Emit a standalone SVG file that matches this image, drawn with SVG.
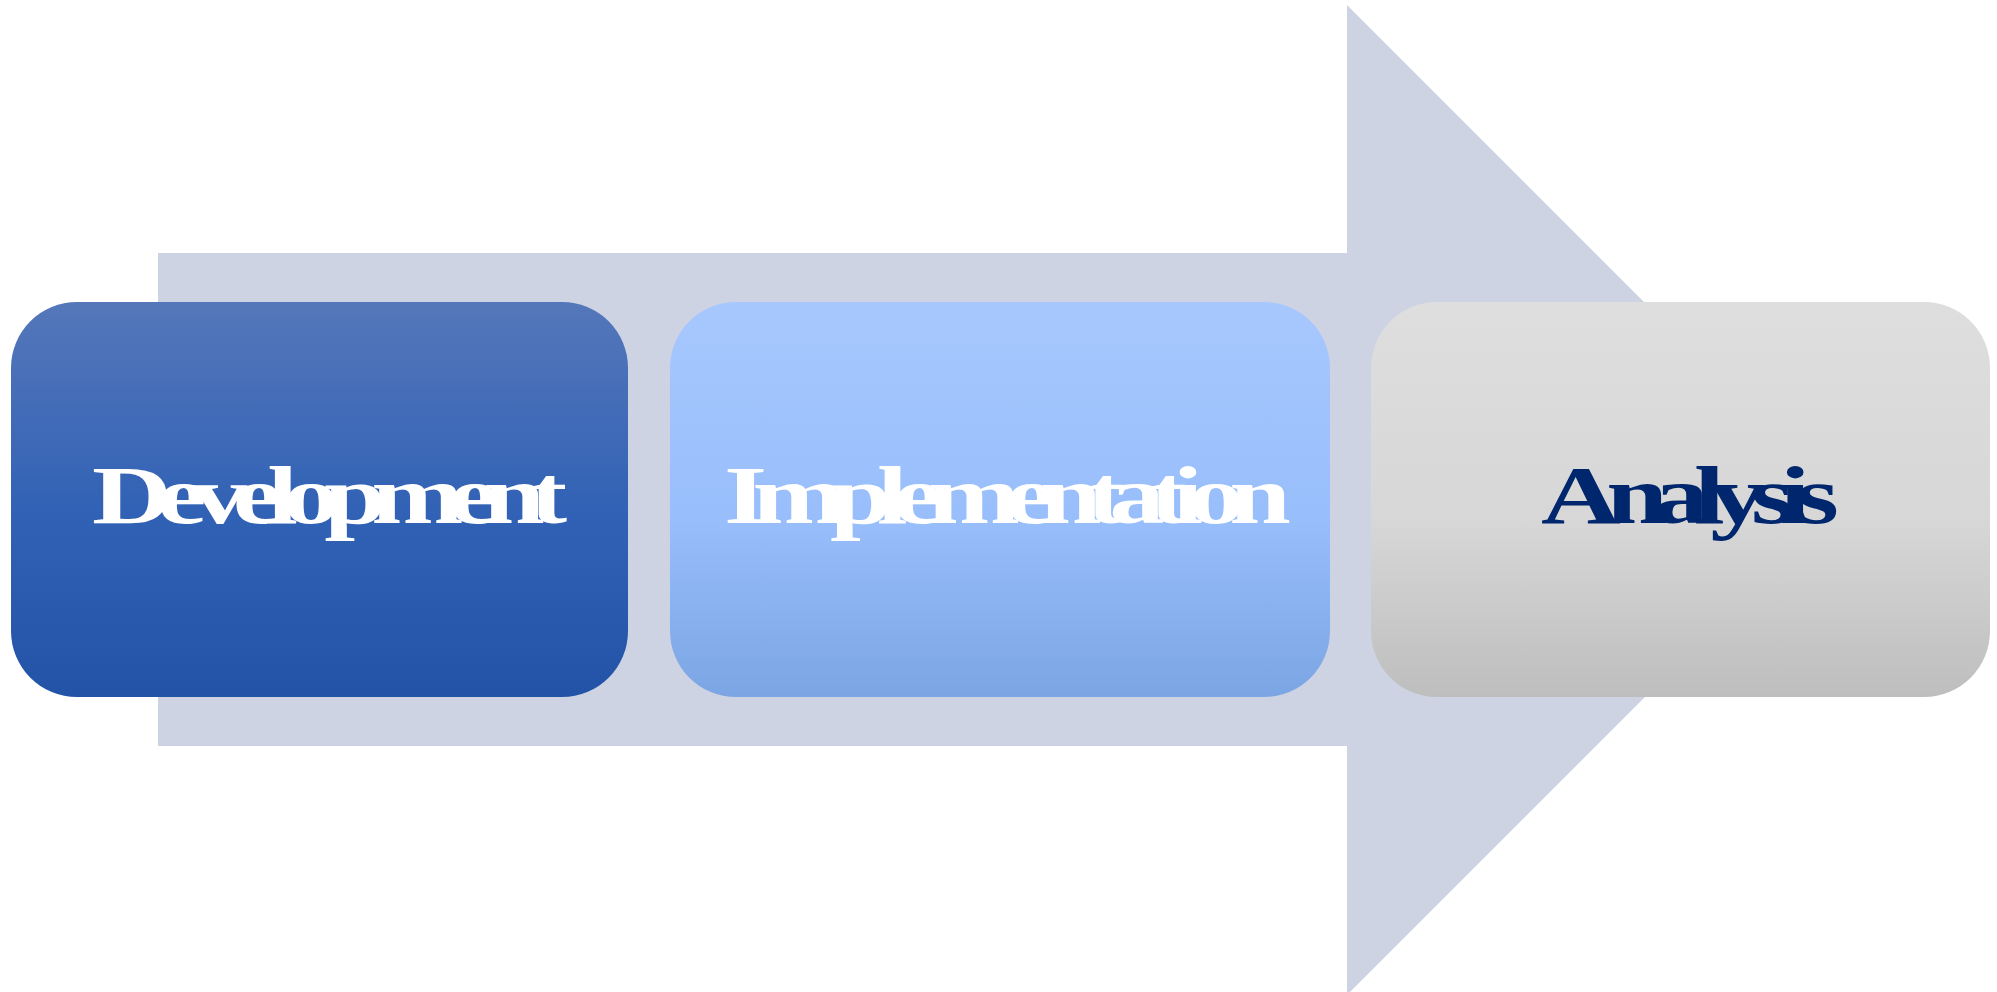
<svg xmlns="http://www.w3.org/2000/svg" width="1997" height="992" viewBox="0 0 1997 992">
  <style>
    .lbl { font-family: "Liberation Serif", "Times New Roman", serif; font-weight: bold; font-size: 82px; letter-spacing: -10.8px; }
    .w { fill: #FFFFFF; }
    .d { fill: #00266E; }
  </style>
  <defs>
    <linearGradient id="g1" x1="0" y1="0" x2="0" y2="1">
      <stop offset="0" stop-color="#5577BA"/>
      <stop offset="0.55" stop-color="#3061B5"/>
      <stop offset="1" stop-color="#2353A7"/>
    </linearGradient>
    <linearGradient id="g2" x1="0" y1="0" x2="0" y2="1">
      <stop offset="0" stop-color="#A7C8FE"/>
      <stop offset="0.55" stop-color="#98BEFB"/>
      <stop offset="1" stop-color="#7BA5E3"/>
    </linearGradient>
    <linearGradient id="g3" x1="0" y1="0" x2="0" y2="1">
      <stop offset="0" stop-color="#DEDEDE"/>
      <stop offset="0.55" stop-color="#D7D7D7"/>
      <stop offset="1" stop-color="#BEBEBE"/>
    </linearGradient>
  </defs>
  <rect width="1997" height="992" fill="#FFFFFF"/>
  <g id="background-arrow">
    <polygon points="158,253 1347,253 1347,5 1842,500 1347,995 1347,746 158,746" fill="#CDD3E3"/>
  </g>
  <g id="node-development">
    <rect x="11" y="302" width="617" height="395" rx="66" ry="66" fill="url(#g1)"/>
    <text class="lbl w" transform="translate(92 523) scale(1.35 1)" x="0" y="0">Development</text>
  </g>
  <g id="node-implementation">
    <rect x="670" y="302" width="660" height="395" rx="66" ry="66" fill="url(#g2)"/>
    <text class="lbl w" transform="translate(724 523) scale(1.35 1)" x="0" y="0">Implementation</text>
  </g>
  <g id="node-analysis">
    <rect x="1371" y="302" width="619" height="395" rx="66" ry="66" fill="url(#g3)"/>
    <text class="lbl d" transform="translate(1541 523) scale(1.35 1)" x="0" y="0">Analysis</text>
  </g>
</svg>
